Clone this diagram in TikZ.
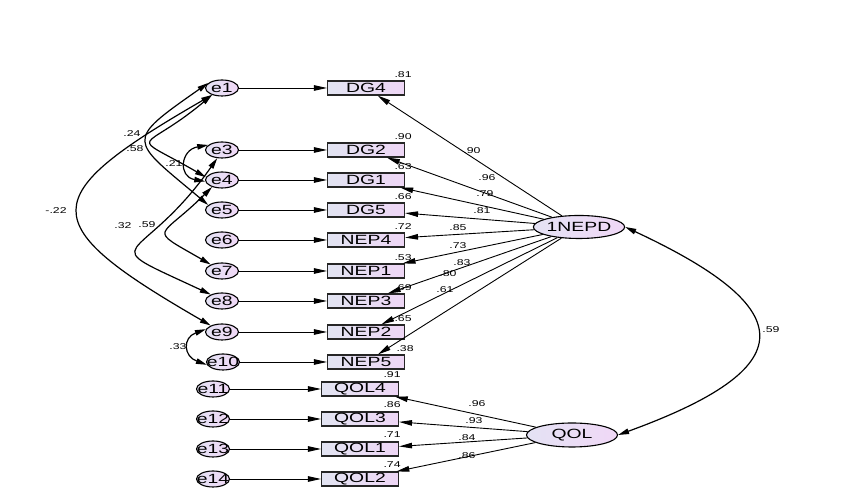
\documentclass[tikz,border=0pt]{standalone}
\usepackage{fontspec}
\setmainfont{Liberation Sans}
\newfontfamily\amosfont[FakeStretch=1.45]{Liberation Sans}
\usetikzlibrary{arrows.meta,shapes.geometric}
\definecolor{boxleft}{RGB}{226,228,242}
\definecolor{boxright}{RGB}{238,214,245}
\definecolor{ovleft}{RGB}{228,226,244}
\definecolor{ovright}{RGB}{240,216,246}
\begin{document}
\begin{tikzpicture}[
    x=1bp, y=1bp,
    obs/.style={rectangle, draw=black!85, line width=1.1bp, minimum width=77bp,
        minimum height=14bp, inner sep=0pt, left color=boxleft, right color=boxright,
        font=\amosfont\fontsize{13.4}{14}\selectfont},
    err/.style={ellipse, draw=black, line width=1.1bp, minimum width=33bp,
        minimum height=16bp, inner sep=0pt, left color=ovleft, right color=ovright,
        font=\amosfont\fontsize{13.4}{14}\selectfont,
        execute at begin node=\hbox to 0pt\bgroup\hss,
        execute at end node=\hss\egroup},
    lat/.style={ellipse, draw=black, line width=1.1bp, inner sep=0pt,
        left color=ovleft, right color=ovright,
        font=\amosfont\fontsize{13.4}{14}\selectfont},
    load/.style={line width=0.9bp, -{Triangle[length=13bp,width=5.5bp]}},
    cov/.style={line width=1.2bp,
        {Triangle[length=11bp,width=5.5bp]}-{Triangle[length=11bp,width=5.5bp]}},
    lab/.style={inner sep=0pt, font=\amosfont\fontsize{8.5}{9}\selectfont}
]
\useasboundingbox (0,0) rectangle (850,490);

% latent variables
\node[lat, minimum width=88bp, minimum height=23bp] (nepd) at (579,263) {1NEPD};
\node[lat, minimum width=91bp, minimum height=24bp] (qol) at (572,55) {QOL};

% indicators
\node[obs] (dg4) at (366,402) {DG4};
\node[obs] (dg2) at (366,340) {DG2};
\node[obs] (dg1) at (366,310) {DG1};
\node[obs] (dg5) at (366,280) {DG5};
\node[obs] (nep4) at (366,250) {NEP4};
\node[obs] (nep1) at (366,219) {NEP1};
\node[obs] (nep3) at (366,189) {NEP3};
\node[obs] (nep2) at (366,158) {NEP2};
\node[obs] (nep5) at (366,128) {NEP5};
\node[obs] (qol4) at (360,101) {QOL4};
\node[obs] (qol3) at (360,71) {QOL3};
\node[obs] (qol1) at (360,41) {QOL1};
\node[obs] (qol2) at (360,11) {QOL2};

% error terms
\node[err] (e1) at (222,402) {e1};
\node[err] (e3) at (222,340) {e3};
\node[err] (e4) at (222,310) {e4};
\node[err] (e5) at (222,280) {e5};
\node[err] (e6) at (222,250) {e6};
\node[err] (e7) at (222,219) {e7};
\node[err] (e8) at (222,189) {e8};
\node[err] (e9) at (222,158) {e9};
\node[err] (e10) at (223,128) {e10};
\node[err] (e11) at (213,101) {e11};
\node[err] (e12) at (213,71) {e12};
\node[err] (e13) at (213,41) {e13};
\node[err] (e14) at (213,11) {e14};

\draw[load] (e1) -- (dg4);
\draw[load] (e3) -- (dg2);
\draw[load] (e4) -- (dg1);
\draw[load] (e5) -- (dg5);
\draw[load] (e6) -- (nep4);
\draw[load] (e7) -- (nep1);
\draw[load] (e8) -- (nep3);
\draw[load] (e9) -- (nep2);
\draw[load] (e10) -- (nep5);
\draw[load] (e11) -- (qol4);
\draw[load] (e12) -- (qol3);
\draw[load] (e13) -- (qol1);
\draw[load] (e14) -- (qol2);

\draw[load] (nepd) -- (dg4);
\draw[load] (nepd) -- (dg2);
\draw[load] (nepd) -- (dg1);
\draw[load] (nepd) -- (dg5);
\draw[load] (nepd) -- (nep4);
\draw[load] (nepd) -- (nep1);
\draw[load] (nepd) -- (nep3);
\draw[load] (nepd) -- (nep2);
\draw[load] (nepd) -- (nep5);
\draw[load] (qol) -- (qol4);
\draw[load] (qol) -- (qol3);
\draw[load] (qol) -- (qol1);
\draw[load] (qol) -- (qol2);

% covariances
\draw[cov] (e1.215) .. controls +(210:205) and +(150:205) .. (e9.150);
\draw[cov] (e1.160) .. controls +(215:103) and +(140:103) .. (e5.160);
\draw[cov] (e1.215) .. controls +(220:93) and +(150:93) .. (e4.170);
\draw[cov] (e3.160) .. controls +(190:28) and +(170:28) .. (e4.185);
\draw[cov] (e3.240) .. controls +(235:136) and +(155:136) .. (e8.150);
\draw[cov] (e4.215) .. controls +(225:75) and +(150:75) .. (e7.150);
\draw[cov] (e9.170) .. controls +(200:25) and +(160:25) .. (e10.190);
\draw[cov] (nepd.east) .. controls +(-25:196) and +(20:196) .. (qol.east);

\node[lab] (c1) at (56,279) {-.22};
\node[lab] (c2) at (132,356) {.24};
\node[lab] (c3) at (135,341) {.58};
\node[lab] (c4) at (174,326) {.21};
\node[lab] (c5) at (123,264) {.32};
\node[lab] (c6) at (147,265) {.59};
\node[lab] (c7) at (178,143) {.33};
\node[lab] (c8) at (771,160) {.59};

% loadings
\node[lab] (w1) at (472,339) {.90};
\node[lab] (w2) at (487,312) {.96};
\node[lab] (w3) at (485,296) {.79};
\node[lab] (w4) at (482,279) {.81};
\node[lab] (w5) at (458,262) {.85};
\node[lab] (w6) at (458,244) {.73};
\node[lab] (w7) at (462,227) {.83};
\node[lab] (w8) at (448,216) {.80};
\node[lab] (w9) at (445,200) {.61};
\node[lab] (w10) at (477,86) {.96};
\node[lab] (w11) at (474,69) {.93};
\node[lab] (w12) at (467,52) {.84};
\node[lab] (w13) at (467,34) {.86};

% squared multiple correlations
\node[lab] (r1) at ([xshift=-2bp,yshift=6bp]dg4.north east) {.81};
\node[lab] (r2) at ([xshift=-2bp,yshift=6bp]dg2.north east) {.90};
\node[lab] (r3) at ([xshift=-2bp,yshift=6bp]dg1.north east) {.63};
\node[lab] (r4) at ([xshift=-2bp,yshift=6bp]dg5.north east) {.66};
\node[lab] (r5) at ([xshift=-2bp,yshift=6bp]nep4.north east) {.72};
\node[lab] (r6) at ([xshift=-2bp,yshift=6bp]nep1.north east) {.53};
\node[lab] (r7) at ([xshift=-2bp,yshift=6bp]nep3.north east) {.69};
\node[lab] (r8) at ([xshift=-2bp,yshift=6bp]nep2.north east) {.65};
\node[lab] (r9) at ([xshift=0bp,yshift=6bp]nep5.north east) {.38};
\node[lab] (r10) at ([xshift=-7bp,yshift=7bp]qol4.north east) {.91};
\node[lab] (r11) at ([xshift=-7bp,yshift=7bp]qol3.north east) {.86};
\node[lab] (r12) at ([xshift=-7bp,yshift=7bp]qol1.north east) {.71};
\node[lab] (r13) at ([xshift=-7bp,yshift=7bp]qol2.north east) {.74};
\end{tikzpicture}
\end{document}
